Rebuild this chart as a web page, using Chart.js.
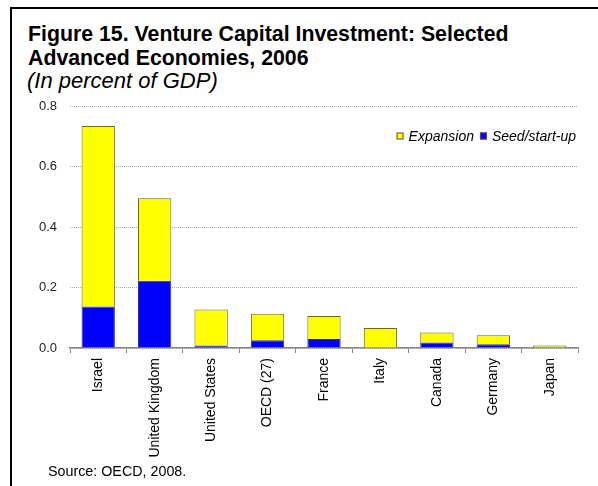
<!DOCTYPE html>
<html>
<head>
<meta charset="utf-8">
<script src="https://cdn.jsdelivr.net/npm/chart.js@4"></script>
<style>
  html, body { margin: 0; padding: 0; background: #fff; }
  body { width: 598px; height: 486px; position: relative; overflow: hidden; font-family: Arial, "Liberation Sans", sans-serif; }
  #frame { position: absolute; left: 10px; top: 7px; width: 620px; height: 500px; border-top: 2.5px solid #000; border-left: 2.5px solid #000; }
  #title { position: absolute; left: 28px; top: 22px; font-weight: bold; font-size: 21.3px; line-height: 24px; color: #000; }
  #subtitle { position: absolute; left: 27px; top: 70px; font-style: italic; font-size: 22px; line-height: 22px; color: #000; }
  #source { position: absolute; left: 48px; top: 463px; font-size: 14.3px; color: #000; }
  #chart { position: absolute; left: 0; top: 0; }
</style>
</head>
<body>
<div id="frame"></div>
<div id="title">Figure 15. Venture Capital Investment: Selected<br>Advanced Economies, 2006</div>
<div id="subtitle">(In percent of GDP)</div>
<canvas id="chart" width="598" height="486"></canvas>
<div id="source">Source: OECD, 2008.</div>
<script>
const countries = ['Israel', 'United Kingdom', 'United States', 'OECD (27)', 'France', 'Italy', 'Canada', 'Germany', 'Japan'];
const seedStartup = [0.137, 0.222, 0.008, 0.026, 0.030, 0.000, 0.018, 0.012, 0.002];
const expansion = [0.597, 0.273, 0.119, 0.087, 0.076, 0.066, 0.033, 0.030, 0.006];
const yTicks = [0, 0.2, 0.4, 0.6, 0.8];

// legend drawn inside the plot, top right
const insideLegend = {
  id: 'insideLegend',
  afterDraw(chart) {
    const ctx = chart.ctx;
    const area = chart.chartArea;
    const items = chart.data.datasets.slice().reverse();
    ctx.save();
    ctx.font = 'italic 14px Arial';
    ctx.textBaseline = 'middle';
    const y = area.top + 30;
    const box = 7;
    let x = area.right - 2;
    // lay out right to left
    for (let i = items.length - 1; i >= 0; i--) {
      const ds = items[i];
      const w = ctx.measureText(ds.label).width;
      x -= w;
      ctx.fillStyle = '#000';
      ctx.fillText(ds.label, x, y + 1);
      x -= 5 + box;
      ctx.fillStyle = ds.backgroundColor;
      ctx.fillRect(x, y - box / 2, box, box);
      ctx.strokeStyle = '#555';
      ctx.lineWidth = 1;
      ctx.strokeRect(x + 0.5, y - box / 2 + 0.5, box - 1, box - 1);
      x -= 6;
    }
    ctx.restore();
  }
};

new Chart(document.getElementById('chart'), {
  type: 'bar',
  data: {
    labels: countries,
    datasets: [
      {
        label: 'Seed/start-up',
        data: seedStartup,
        backgroundColor: '#0000ff',
        borderColor: '#333366',
        borderWidth: 1,
        barPercentage: 0.59,
        categoryPercentage: 1
      },
      {
        label: 'Expansion',
        data: expansion,
        backgroundColor: '#ffff00',
        borderColor: '#666633',
        borderWidth: 1,
        barPercentage: 0.59,
        categoryPercentage: 1
      }
    ]
  },
  options: {
    responsive: false,
    animation: false,
    layout: { padding: { left: 20, right: 20, top: 106, bottom: 18 } },
    plugins: {
      legend: { display: false },
      tooltip: { enabled: false }
    },
    scales: {
      x: {
        stacked: true,
        afterFit: s => { s.height = 120; },
        grid: { drawOnChartArea: false, drawTicks: true, tickLength: 5, color: '#888', offset: true },
        border: { color: '#888', width: 1.5 },
        ticks: {
          minRotation: 90, maxRotation: 90, padding: 5,
          color: '#000', font: { family: 'Arial', size: 14 }
        }
      },
      y: {
        stacked: true,
        min: 0,
        max: 0.8,
        afterFit: s => { s.width = 50; },
        afterBuildTicks: s => { s.ticks = yTicks.map(v => ({ value: v })); },
        grid: { drawTicks: false, color: '#aaa', lineWidth: 1 },
        border: { display: false, dash: [1, 1] },
        ticks: {
          padding: 13, color: '#222',
          font: { family: 'Arial', size: 13 },
          callback: v => v.toFixed(1)
        }
      }
    }
  },
  plugins: [insideLegend]
});
</script>
</body>
</html>
